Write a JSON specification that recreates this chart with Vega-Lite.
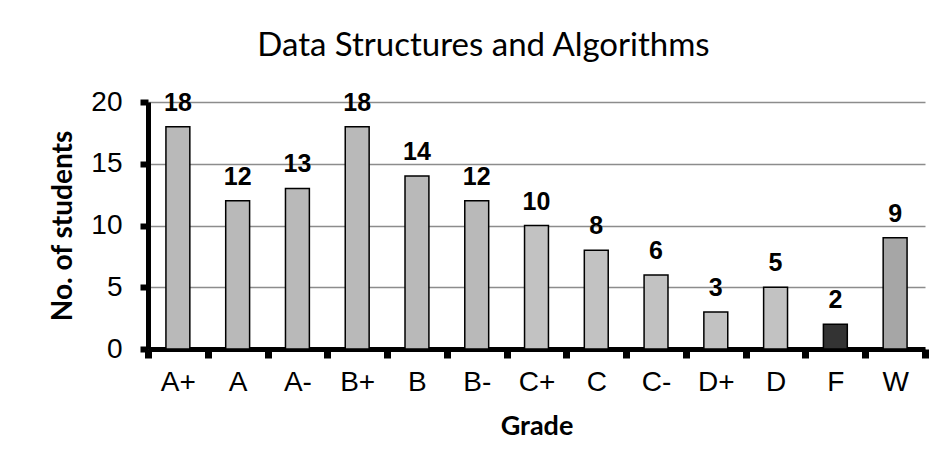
{
  "$schema": "https://vega.github.io/schema/vega-lite/v6.json",
  "autosize": "none",
  "width": 777,
  "height": 247,
  "padding": {"left": 148, "top": 102, "right": 13, "bottom": 127},
  "background": "white",
  "config": {"view": {"stroke": null}},
  "title": {
    "text": "Data Structures and Algorithms",
    "font": "Lato",
    "fontSize": 33,
    "fontWeight": "normal",
    "color": "black",
    "anchor": "middle",
    "frame": "group",
    "dx": -53,
    "offset": 25
  },
  "data": {
    "values": [
      {"grade": "A+", "students": 18, "group": "A"},
      {"grade": "A", "students": 12, "group": "A"},
      {"grade": "A-", "students": 13, "group": "A"},
      {"grade": "B+", "students": 18, "group": "A"},
      {"grade": "B", "students": 14, "group": "A"},
      {"grade": "B-", "students": 12, "group": "A"},
      {"grade": "C+", "students": 10, "group": "C"},
      {"grade": "C", "students": 8, "group": "C"},
      {"grade": "C-", "students": 6, "group": "C"},
      {"grade": "D+", "students": 3, "group": "C"},
      {"grade": "D", "students": 5, "group": "C"},
      {"grade": "F", "students": 2, "group": "F"},
      {"grade": "W", "students": 9, "group": "W"}
    ]
  },
  "encoding": {
    "x": {
      "field": "grade",
      "type": "nominal",
      "sort": null,
      "scale": {"paddingInner": 0, "paddingOuter": 0},
      "axis": {
        "title": "Grade",
        "titleFont": "Lato",
        "titleFontSize": 27,
        "titleFontWeight": "bold",
        "titleColor": "black",
        "titlePadding": 17,
        "labelFont": "Liberation Sans, Arial, sans-serif",
        "labelFontSize": 28,
        "labelColor": "black",
        "labelAngle": 0,
        "labelPadding": 10,
        "domainColor": "black",
        "domainWidth": 5,
        "tickColor": "black",
        "tickWidth": 7,
        "tickSize": 9,
        "tickBand": "extent",
        "grid": false
      }
    },
    "y": {
      "field": "students",
      "type": "quantitative",
      "scale": {"domain": [0, 20]},
      "axis": {
        "title": "No. of students",
        "titleFont": "Lato",
        "titleFontSize": 28,
        "titleFontWeight": "bold",
        "titleColor": "black",
        "titlePadding": 13,
        "values": [0, 5, 10, 15, 20],
        "labelFont": "Liberation Sans, Arial, sans-serif",
        "labelFontSize": 28,
        "labelColor": "black",
        "labelPadding": 18,
        "domainColor": "black",
        "domainWidth": 5,
        "tickColor": "black",
        "tickWidth": 6,
        "tickSize": 8,
        "grid": true,
        "gridColor": "#8c8c8c",
        "gridWidth": 1.5
      }
    }
  },
  "layer": [
    {
      "mark": {"type": "bar", "stroke": "black", "strokeWidth": 1.5, "width": {"band": 0.4}},
      "encoding": {
        "color": {
          "field": "group",
          "type": "nominal",
          "scale": {"domain": ["A", "C", "F", "W"], "range": ["#b9b9b9", "#c2c2c2", "#333333", "#a6a6a6"]},
          "legend": null
        }
      }
    },
    {
      "mark": {"type": "text", "font": "Liberation Sans, Arial, sans-serif", "fontSize": 25, "fontWeight": "bold", "color": "black", "baseline": "alphabetic", "dy": -16},
      "encoding": {"text": {"field": "students", "type": "quantitative"}}
    }
  ]
}
